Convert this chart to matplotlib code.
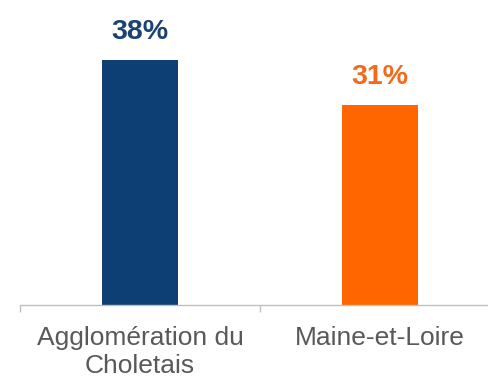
import matplotlib
matplotlib.use("Agg")
import matplotlib.pyplot as plt
from matplotlib.ticker import FixedLocator

categories = ["Agglomération du\nCholetais", "Maine-et-Loire"]
values = [38, 31]
colors = ["#0D3F74", "#FF6600"]
label_colors = ["#1A4373", "#F26A1B"]

plt.rcParams["font.family"] = ["Liberation Sans", "DejaVu Sans"]

fig = plt.figure(figsize=(4.89, 3.78), dpi=100)
ax = fig.add_axes([20 / 489, 73 / 378, 480 / 489, 290 / 378])

x = list(range(len(categories)))
bars = ax.bar(x, values, width=0.32, color=colors)

for xi, v, c in zip(x, values, label_colors):
    ax.annotate(f"{v}%", (xi, v), xytext=(0, 11), textcoords="offset points",
                ha="center", va="bottom", fontsize=20.5, fontweight="bold", color=c)

ax.set_xlim(-0.5, 1.5)
ax.set_ylim(0, 45)
ax.set_xticks(x)
ax.set_xticklabels(categories, fontsize=19, color="#595959", linespacing=1.2)
ax.tick_params(axis="x", which="major", length=0, pad=15)
ax.xaxis.set_minor_locator(FixedLocator([-0.5, 0.5, 1.5]))
ax.tick_params(axis="x", which="minor", length=5, color="#BFBFBF", width=1)
ax.set_yticks([])
for side in ["top", "right", "left"]:
    ax.spines[side].set_visible(False)
ax.spines["bottom"].set_color("#BFBFBF")
ax.spines["bottom"].set_linewidth(1)

fig.savefig("out.png", dpi=100)
